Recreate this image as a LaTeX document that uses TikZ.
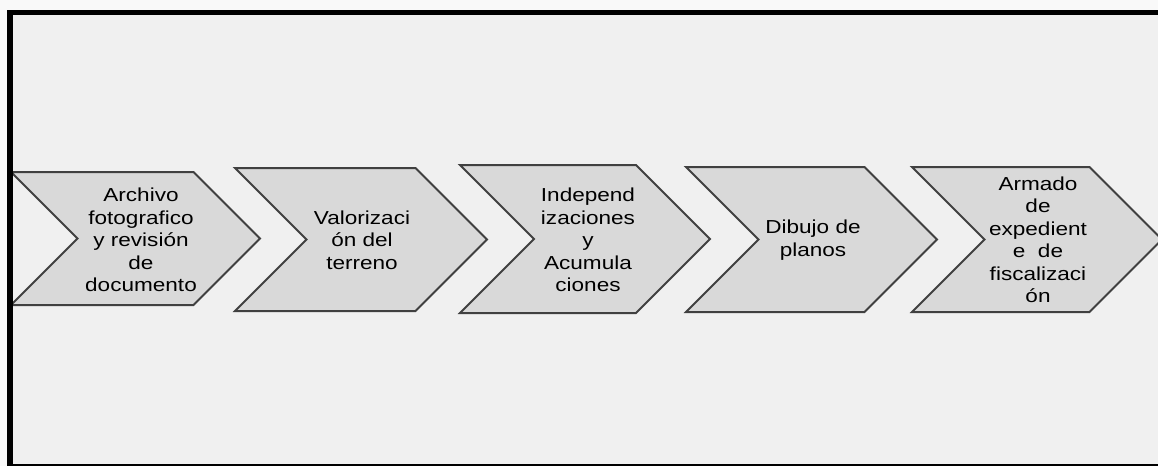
\documentclass[tikz,border=0pt]{standalone}
\usepackage{fontspec}
\setmainfont{Liberation Sans}[FakeStretch=1.2]
\usepackage{tikz}

\definecolor{fondo}{HTML}{F0F0F0}
\definecolor{relleno}{HTML}{D9D9D9}
\definecolor{borde}{HTML}{404040}

\tikzset{
  paso/.style={fill=relleno, draw=borde, line width=1pt, line join=miter},
  texto/.style={font=\fontsize{9.4}{11.25}\selectfont, align=center, black, inner sep=0pt}
}

% chevron: izquierda, arriba, abajo, punta
\newcommand{\flecha}[4]{%
  \pgfmathsetmacro{\med}{(#2+#3)/2}%
  \pgfmathsetmacro{\prof}{(#3-#2)/2}%
  \draw[paso] (#1,#2) -- ({#4-\prof},#2) -- (#4,\med) -- ({#4-\prof},#3)
    -- (#1,#3) -- ({#1+\prof},\med) -- cycle;}

\begin{document}
\begin{tikzpicture}[x=0.5pt, y=-0.5pt]
\useasboundingbox (0,0) rectangle (1158,466);
\fill[white!60!fondo] (0,0) rectangle (1158,466);
\fill[fondo] (10,12) rectangle (1158,465);

% pasos
\flecha{11}{172}{305}{260}
\flecha{235}{168}{311}{487}
\flecha{460}{165}{313}{710}
\flecha{686}{167}{312}{937}
\flecha{912}{167}{312}{1162}

\node[texto] (archivo) at (141,240) {Archivo\\fotografico\\y revisión\\de\\documento};
\node[texto] (valor) at (362,240) {Valorizaci\\ón del\\terreno};
\node[texto] (indep) at (588,240) {Independ\\izaciones\\y\\Acumula\\ciones};
\node[texto] (dibujo) at (813,240) {Dibujo de\\planos};
\node[texto] (armado) at (1038,240) {Armado\\de\\expedient\\e\ \ de\\fiscalizaci\\ón};

% marco
\fill[black] (7,10) rectangle (13,466);
\fill[black] (7,10) rectangle (1158,15);
\fill[black] (7,463.5) rectangle (1158,465.5);
\end{tikzpicture}
\end{document}
